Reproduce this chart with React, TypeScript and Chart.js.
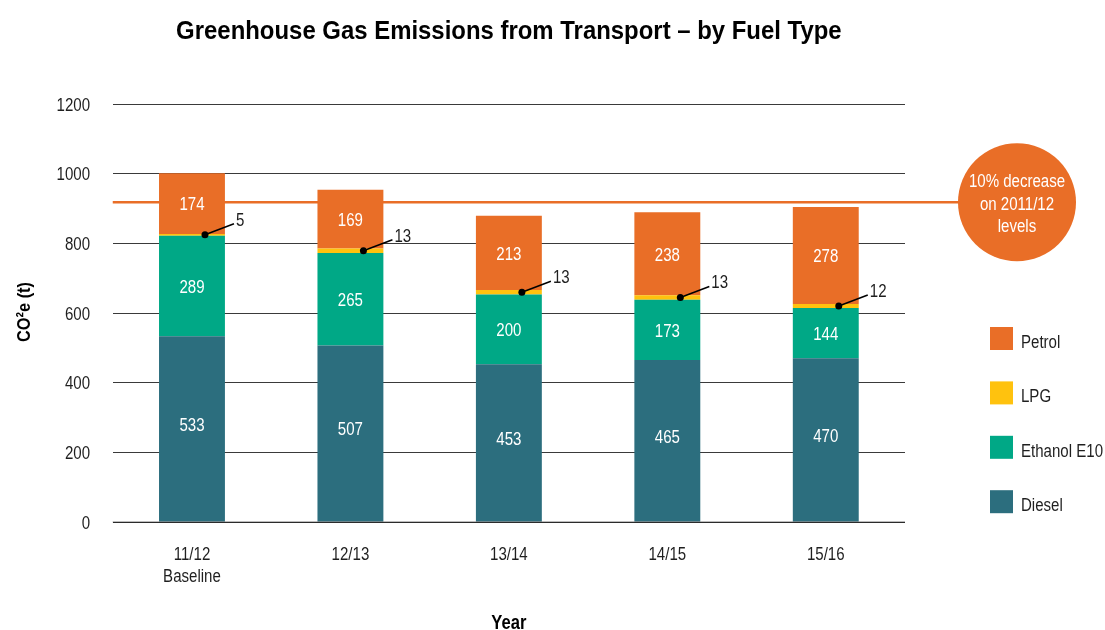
import { useEffect, useRef } from 'react';
import { Chart, registerables } from 'chart.js';

Chart.register(...registerables);

const categories: (string | string[])[] = [['11/12', 'Baseline'], '12/13', '13/14', '14/15', '15/16'];
const diesel = [533, 507, 453, 465, 470];
const ethanol = [289, 265, 200, 173, 144];
const lpg = [5, 13, 13, 13, 12];
const petrol = [174, 169, 213, 238, 278];
const yMin = 0;
const yMax = 1200;
const yStep = 200;
const targetLevel = 918;
const targetText = ['10% decrease', 'on 2011/12', 'levels'];
const titleText = 'Greenhouse Gas Emissions from Transport \u2013 by Fuel Type';
const yTitle = 'CO\u00B2e (t)';
const xTitle = 'Year';

const COLORS = {
  petrol: '#E96E27',
  lpg: '#FFC20E',
  ethanol: '#00A886',
  diesel: '#2C6E7E',
};
const FONT = "'Liberation Sans', Arial, sans-serif";
const TEXT = '#1f1f1f';
const NARROW = 0.86;
const BASELINE_FIX = 2;

const legendItems = [
  { label: 'Petrol', color: COLORS.petrol },
  { label: 'LPG', color: COLORS.lpg },
  { label: 'Ethanol E10', color: COLORS.ethanol },
  { label: 'Diesel', color: COLORS.diesel },
];

function txt(
  ctx: CanvasRenderingContext2D,
  s: string,
  x: number,
  y: number,
  align: CanvasTextAlign,
  font: string,
  color: string,
  sx: number = NARROW,
  fix: number = BASELINE_FIX
) {
  ctx.save();
  ctx.translate(x, y + fix);
  ctx.scale(sx, 1);
  ctx.font = font;
  ctx.fillStyle = color;
  ctx.textAlign = align;
  ctx.textBaseline = 'middle';
  ctx.fillText(s, 0, 0);
  ctx.restore();
}

const decorPlugin = {
  id: 'decor',
  beforeDatasetsDraw(chart: any) {
    const { ctx, chartArea, scales } = chart;
    const y = scales.y.getPixelForValue(targetLevel);
    ctx.save();
    ctx.strokeStyle = COLORS.petrol;
    ctx.lineWidth = 2.5;
    ctx.beginPath();
    ctx.moveTo(chartArea.left, y);
    ctx.lineTo(1000, y);
    ctx.stroke();
    ctx.restore();
  },
  afterDatasetsDraw(chart: any) {
    const { ctx, chartArea, scales } = chart;
    ctx.save();
    // zero line over bars
    const y0 = scales.y.getPixelForValue(0);
    ctx.strokeStyle = 'rgba(0,0,0,0.35)';
    ctx.lineWidth = 1.5;
    ctx.beginPath();
    ctx.moveTo(chartArea.left, y0);
    ctx.lineTo(chartArea.right, y0);
    ctx.stroke();

    const f = `17.5px ${FONT}`;
    chart.data.datasets.forEach((ds: any, di: number) => {
      const meta = chart.getDatasetMeta(di);
      meta.data.forEach((el: any, i: number) => {
        const p = el.getProps(['x', 'y', 'base'], true);
        const mid = (p.y + p.base) / 2;
        if (ds.label === 'LPG') {
          const dx = p.x + 13;
          ctx.fillStyle = '#000';
          ctx.strokeStyle = '#000';
          ctx.lineWidth = 1.5;
          ctx.beginPath();
          ctx.moveTo(dx, mid);
          ctx.lineTo(dx + 29, mid - 11);
          ctx.stroke();
          ctx.beginPath();
          ctx.arc(dx, mid, 3.5, 0, Math.PI * 2);
          ctx.fill();
          txt(ctx, String(ds.data[i]), dx + 31, mid - 16, 'left', f, TEXT);
        } else {
          const off = ds.label === 'Diesel' ? -5 : 0;
          txt(ctx, String(ds.data[i]), p.x, mid + off, 'center', f, '#fff');
        }
      });
    });
    ctx.restore();
  },
  afterDraw(chart: any) {
    const { ctx, chartArea, scales } = chart;
    const f = `17.5px ${FONT}`;
    // y tick labels
    scales.y.ticks.forEach((t: any) => {
      txt(ctx, String(t.value), 90, scales.y.getPixelForValue(t.value), 'right', f, TEXT);
    });
    // x tick labels
    chart.data.labels.forEach((lab: any, i: number) => {
      const lines = Array.isArray(lab) ? lab : [lab];
      const x = scales.x.getPixelForTick(i);
      lines.forEach((ln: string, j: number) => {
        txt(ctx, ln, x, 553 + j * 22.5, 'center', f, TEXT);
      });
    });

    // circle annotation
    const ty = scales.y.getPixelForValue(targetLevel);
    const cx = 1017;
    ctx.save();
    ctx.fillStyle = COLORS.petrol;
    ctx.beginPath();
    ctx.arc(cx, ty, 59, 0, Math.PI * 2);
    ctx.fill();
    ctx.restore();
    targetText.forEach((t, i) => txt(ctx, t, cx, ty - 22 + i * 22.5, 'center', f, '#fff'));

    // legend
    legendItems.forEach((it, i) => {
      const top = 327 + i * 54.4;
      ctx.fillStyle = it.color;
      ctx.fillRect(990, top, 23, 23);
      txt(ctx, it.label, 1021, top + 14, 'left', f, TEXT);
    });

    const cxa = (chartArea.left + chartArea.right) / 2;
    // title
    txt(ctx, titleText, cxa, 29.5, 'center', `bold 26px ${FONT}`, '#000', 0.92);
    // x title
    txt(ctx, xTitle, cxa, 621, 'center', `bold 20px ${FONT}`, '#000', 0.83);
    // y title
    ctx.save();
    ctx.translate(23, (chartArea.top + chartArea.bottom) / 2 - 1);
    ctx.rotate(-Math.PI / 2);
    txt(ctx, yTitle, 0, 0, 'center', `bold 19px ${FONT}`, '#000', 0.86);
    ctx.restore();
  },
};

export default function App() {
  const ref = useRef<HTMLCanvasElement | null>(null);
  useEffect(() => {
    document.body.style.margin = '0';
    if (!ref.current) return;
    const chart = new Chart(ref.current, {
      type: 'bar',
      data: {
        labels: categories,
        datasets: [
          { label: 'Diesel', data: diesel, backgroundColor: COLORS.diesel },
          { label: 'Ethanol E10', data: ethanol, backgroundColor: COLORS.ethanol },
          { label: 'LPG', data: lpg, backgroundColor: COLORS.lpg },
          { label: 'Petrol', data: petrol, backgroundColor: COLORS.petrol },
        ],
      },
      options: {
        responsive: false,
        animation: false,
        datasets: { bar: { categoryPercentage: 1, barPercentage: 0.416, borderWidth: 0 } },
        layout: { padding: { top: 104, right: 200, left: 0, bottom: 0 } },
        plugins: {
          legend: { display: false },
          title: { display: false },
          tooltip: { enabled: false },
        },
        scales: {
          x: {
            stacked: true,
            grid: { display: false },
            border: { display: false },
            ticks: { display: false },
            afterFit: (s: any) => { s.height = 108; },
          },
          y: {
            stacked: true,
            min: yMin,
            max: yMax,
            grid: { color: '#3a3a3a', lineWidth: 1, drawTicks: false },
            border: { display: false },
            ticks: { stepSize: yStep, display: false },
            afterFit: (s: any) => { s.width = 112.75; },
          },
        },
      },
      plugins: [decorPlugin],
    } as any);
    return () => chart.destroy();
  }, []);
  return (
    <div style={{ width: 1105, height: 630 }}>
      <canvas ref={ref} width={1105} height={630} />
    </div>
  );
}
